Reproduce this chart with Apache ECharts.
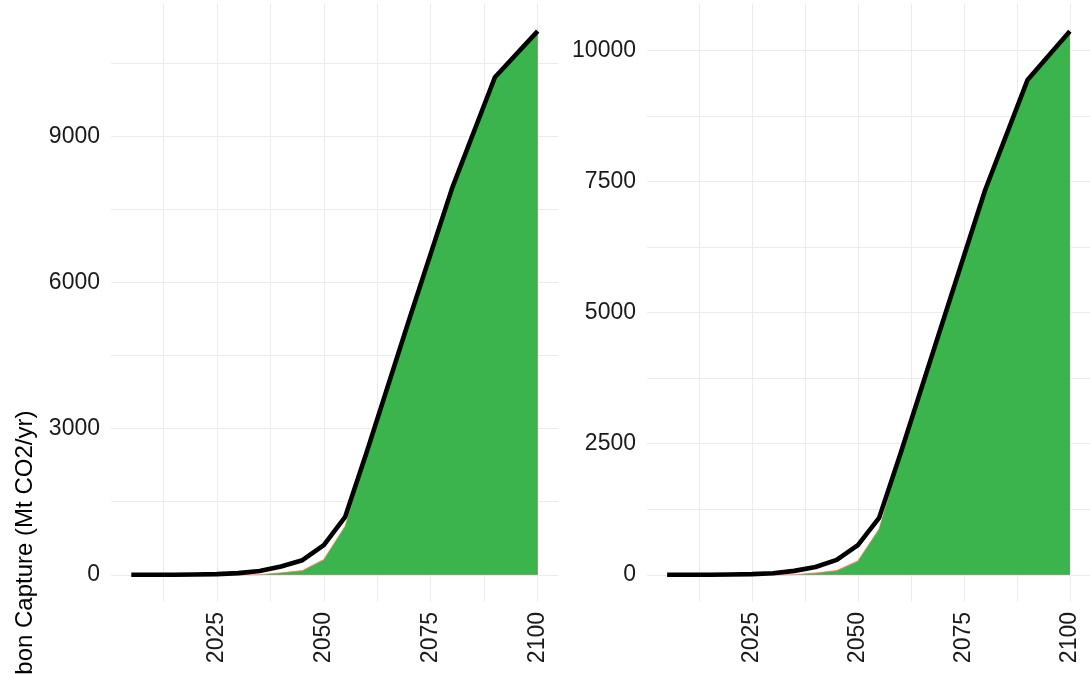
<!DOCTYPE html>
<html>
<head>
<meta charset="utf-8">
<script src="https://cdn.jsdelivr.net/npm/echarts@6/dist/echarts.min.js"></script>
<style>
html,body{margin:0;padding:0;background:#fff;}
#chart{width:1090px;height:674px;}
</style>
</head>
<body>
<div id="chart"></div>
<script>
// ---- data ----
var years = [2005, 2010, 2015, 2020, 2025, 2030, 2035, 2040, 2045, 2050, 2055, 2060, 2070, 2080, 2090, 2100];

var leftTotal = [0, 0, 2, 5, 15, 35, 80, 170, 300, 610, 1190, 2510, 5250, 7935, 10210, 11155];
var leftGreen = [0, 0, 0, 0, 0, 0, 0, 30, 75, 300, 985, 2440, 5180, 7870, 10150, 11100];
var leftRed   = [0, 0, 0, 0, 0, 0, 3, 10, 12, 15, 15, 15, 15, 15, 15, 15];

var rightTotal = [0, 0, 2, 5, 13, 30, 75, 150, 285, 565, 1085, 2300, 4820, 7330, 9430, 10362];
var rightGreen = [0, 0, 0, 0, 0, 0, 0, 25, 70, 250, 860, 2220, 4750, 7270, 9370, 10300];
var rightRed   = [0, 0, 0, 0, 0, 0, 3, 10, 12, 15, 15, 15, 15, 15, 15, 15];

var xLabelStep = 25;
var xGridStep = 12.5;
var leftLabelStep = 3000, leftGridStep = 1500;
var rightLabelStep = 2500, rightGridStep = 1250;
var yTitle = 'Carbon Capture (Mt CO2/yr)';

// ---- helpers ----
function pairs(xs, ys) { return xs.map(function (x, i) { return [x, ys[i]]; }); }
function cum(a, b) { return a.map(function (v, i) { return v + b[i]; }); }
function expand(lo, hi) { var d = (hi - lo) * 0.05; return [lo - d, hi + d]; }

var FONT = "'Liberation Sans', Arial, Helvetica, sans-serif";
var GRID_COLOR = '#EBEBEB';
var GREEN = '#3CB44E';
var RED = '#F8766D';

var xr = expand(Math.min.apply(null, years), Math.max.apply(null, years));
var lyr = expand(0, Math.max.apply(null, leftTotal));
var ryr = expand(0, Math.max.apply(null, rightTotal));

function xAxis(idx) {
  return {
    type: 'value', gridIndex: idx, min: xr[0], max: xr[1],
    minInterval: xGridStep, maxInterval: xGridStep,
    axisLine: {show: false}, axisTick: {show: false},
    splitLine: {show: true, showMinLine: false, showMaxLine: false, lineStyle: {color: GRID_COLOR, width: 1}},
    axisLabel: {
      rotate: 90, margin: 10, fontSize: 23, color: '#1a1a1a', fontFamily: FONT,
      showMinLabel: false, showMaxLabel: false,
      formatter: function (v) { var r = Math.round(v * 100) / 100; return (r % xLabelStep === 0 && r >= xr[0] && r <= xr[1]) ? String(r) : ''; }
    }
  };
}
function yAxis(idx, yr, gridStep, labelStep) {
  return {
    type: 'value', gridIndex: idx, min: yr[0], max: yr[1],
    minInterval: gridStep, maxInterval: gridStep,
    axisLine: {show: false}, axisTick: {show: false},
    splitLine: {show: true, showMinLine: false, showMaxLine: false, lineStyle: {color: GRID_COLOR, width: 1}},
    axisLabel: {
      margin: 11, fontSize: 23, color: '#1a1a1a', fontFamily: FONT,
      showMinLabel: false, showMaxLabel: false,
      formatter: function (v) { var r = Math.round(v); return (Math.abs(v - r) < 1e-6 && r % labelStep === 0 && r >= 0) ? String(r) : ''; }
    }
  };
}
function panelSeries(idx, green, red, total) {
  return [
    // red layer drawn as green+red top, underneath the green area
    {type: 'line', xAxisIndex: idx, yAxisIndex: idx, data: pairs(years, cum(green, red)),
     showSymbol: false, lineStyle: {width: 0.8, color: RED}, areaStyle: {color: RED, opacity: 1}, silent: true, z: 1},
    {type: 'line', xAxisIndex: idx, yAxisIndex: idx, data: pairs(years, green),
     showSymbol: false, lineStyle: {width: 0}, areaStyle: {color: GREEN, opacity: 1}, silent: true, z: 2},
    {type: 'line', xAxisIndex: idx, yAxisIndex: idx, data: pairs(years, total),
     showSymbol: false, lineStyle: {width: 4.6, color: '#000', join: 'round', cap: 'butt'}, silent: true, z: 3}
  ];
}

var chart = echarts.init(document.getElementById('chart'), null, {renderer: 'canvas'});
chart.setOption({
  animation: false,
  backgroundColor: '#fff',
  grid: [
    {left: 111, right: 532, top: 4, bottom: 72},
    {left: 647, right: -4, top: 4, bottom: 72}
  ],
  xAxis: [xAxis(0), xAxis(1)],
  yAxis: [yAxis(0, lyr, leftGridStep, leftLabelStep), yAxis(1, ryr, rightGridStep, rightLabelStep)],
  series: panelSeries(0, leftGreen, leftRed, leftTotal).concat(panelSeries(1, rightGreen, rightRed, rightTotal)),
  graphic: [{
    type: 'text', x: 25, y: 562, rotation: Math.PI / 2,
    style: {text: yTitle, fontSize: 24, fontFamily: FONT, fill: '#000', align: 'center', verticalAlign: 'middle'}
  }]
});
</script>
</body>
</html>
